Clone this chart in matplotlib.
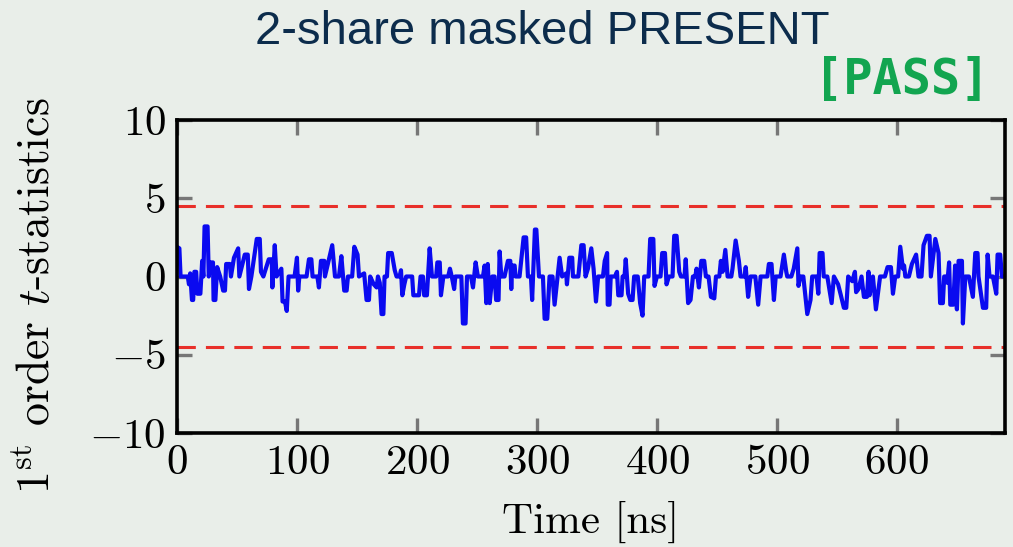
import matplotlib
matplotlib.use("Agg")
import matplotlib.pyplot as plt

plt.rcParams['font.family'] = 'serif'
plt.rcParams['font.serif'] = ['cmr10']
plt.rcParams['mathtext.fontset'] = 'cm'
plt.rcParams['axes.formatter.use_mathtext'] = True

# t-statistic trace (time in ns, value)
times = [0, 2, 3, 9, 10, 11, 12.5, 13.5, 14.5, 16, 17, 19.5, 21, 22, 23, 25.5, 26.5, 28, 30, 30.5,
         32, 33.5, 36, 38.5, 40, 41, 44, 45, 47.5, 51, 52, 56.5, 59, 60, 62, 66.5, 69, 70, 72, 76.5,
         79, 79.5, 81.5, 83, 87, 88, 90, 91.5, 93, 98, 100, 101, 102, 108, 110, 112, 113, 117,
         118.3, 119, 120, 122.8, 123.3, 127, 129.4, 131.7, 135, 137, 139.4, 141.4, 142.5, 146, 147.8, 150.5, 151.7,
         156, 158, 160, 161, 164, 166.4, 167.5, 169, 170.5, 172, 173, 175, 176, 179, 181.5, 183,
         185.5, 186.7, 187.8, 189.5, 191, 196, 197, 201.7, 203, 205, 206, 208.3, 210.6, 212.5,
         216, 217, 219, 220, 222, 226, 227.5, 229, 231, 232,
         237, 238.3, 240.5, 241.7, 245, 246.7, 248.9, 250.8, 255, 256.4, 257.8, 259, 260.6, 262.8,
         264.7, 266, 268, 268.9, 270.3, 273, 275.8, 277.8, 278.6, 279.4, 281.4, 282.2,
         285.5, 288.9, 291, 292.5, 295, 296, 298.3, 299.5, 301.7, 305, 306.4, 308.6, 310.5,
         313, 314.7, 318.9, 321, 324.4, 325, 327, 329.4, 330, 334.5, 337, 338.9, 340.5, 342.5, 345.3,
         347.2, 349.2, 351, 355, 356.5, 358.5, 359, 360.5, 361.5, 365, 366.7, 367.8, 370.5, 371.4,
         373, 374, 376, 377.8, 379.7, 381, 384, 386, 388, 389.4, 393, 394.4, 397, 398, 400,
         403, 404.4, 406.7, 408, 410, 413, 414.4, 416.4, 418.6, 420, 423, 424, 426, 428, 430,
         432, 433, 435, 437, 439.4, 440.8, 443, 445, 447.8, 449.2, 452, 453.3, 454.7, 457, 458.9,
         462, 463, 465.6, 468.3, 469.7, 473, 474, 476, 478, 482, 484.4, 486.4, 492, 493.3, 495.5,
         497.5, 499, 503, 505.8, 507.8, 508.6, 512, 514, 517, 518, 519.5, 522, 525.3, 528, 529.4,
         533, 534.5, 535.6, 538, 539, 542, 543.3, 545.6, 547.5, 551, 553.3, 555.8, 557.8, 559.4,
         562.8, 565, 566, 568, 570.5, 572.5, 575, 576.4, 577.2, 580, 582.5, 586, 590, 592.2,
         595, 596.7, 598.6, 601, 602.8, 605, 606, 607, 610, 612.5, 616, 618, 620.5, 622.2, 625,
         627.2, 628.3, 632, 634.7, 636, 638.3, 639.4, 641, 642, 643.5, 644.5, 647, 648.5, 650,
         651.4, 654.2, 655, 657, 660, 663.3, 665.3, 667.2, 668, 671.7, 674.4, 675.6, 677.2,
         680, 682.8, 683.9, 686.1, 687.5, 692]
tvals = [1.9, 1.8, 0, 0, -0.5, 0.2, -1.5, -1.5, 0.3, 0.3, -1.1, -1.1, 1.0, 0, 3.2, 3.2, 0, 0.9, 0.9, -1.5,
         -1.5, 0.6, 0, -0.9, -0.9, 0.8, 0.8, 0, 1.2, 1.8, 0, 1.4, 1.4, -0.8, 0, 2.4, 2.4, 0.3, 0, 1.1,
         1.1, -0.7, 2.0, 0, 0.5, -1.6, -1.6, -2.2, 0, 0, 1.2, -0.9, 0, 0, 1.1, 1.1, 0, 0,
         -0.7, 0, 1.0, 1.0, 0, 1.2, 2.0, 0, 0, 1.3, -0.9, -0.9, 0, 0, 1.9, 1.4, 0,
         0.2, -1.5, -1.5, 0, -0.5, -0.7, 0, -0.4, -2.4, -2.4, 0, 0, 1.5, 1.5, 0.4, 0,
         0, 0.4, -1.2, -0.5, 0, 0, -1.2, -1.2, 0, 0, -1.2, -1.2, 1.8, 0,
         0, 0.9, 0.9, -1.2, 0, 0, 0.5, 0, -0.8, 0,
         0, -3.0, -3.0, 0, 0, -0.7, 0.9, 0, 0, 0.7, -1.7, 0.8, -1.7, 0,
         0, -1.5, -1.5, 1.6, 0, 0, 1.0, 1.0, -0.8, 0.7, 0.7, 0,
         0, 2.5, 2.5, 0, 0, -1.5, 3.0, 3.0, 0, 0, -2.7, -2.7, 0,
         0, -1.8, 1.2, 0, 0.2, -0.5, 1.2, 1.2, 0, 0, 2.0, 2.0, 0, 0.5, 1.8,
         0.5, -1.6, 0, 0, 1.0, 1.5, -1.8, -1.8, 0, 0, 0.3, -1.2, -1.2, 0,
         0, 1.1, -1.1, -1.5, -1.5, 0, 0, -1.7, -2.5, 0, 0, 2.4, 2.4, -0.6, 0,
         0, 1.5, 1.5, -0.5, 0, 0, 2.6, 2.6, 0.3, 0, 0, 1.1, -1.7, -1.5, 0,
         0, 0.5, -0.7, 1.0, 1.0, 0, 0, -1.3, -1.4, 0, 0, 1.0, 0.3, 1.7, 0,
         0, 0.5, 2.3, 1.0, 0, 0, 0.6, -1.3, 0, 0, -1.8, 0, 0, 0.8, 0.8,
         -1.5, 0, 0, 1.4, 0.3, 0, 0, 0.5, 1.8, -0.6, 0, 0, -2.4, -1.5, 0,
         0, -1.1, 1.5, 1.5, 0, 0, -0.6, -1.7, 0, -0.5, -1.2, -2.0, -2.0, 0,
         -0.3, 0.3, -1.0, -0.8, 0, -1.3, -1.3, 0.3, -1.2, 0, -2.1, 0, 0, 0.6,
         0.6, -1.1, 0, 0, 1.9, 0.5, 0.7, 0, 0, 0.8, 1.4, 0, 0, 2.0, 2.6,
         2.6, 0, 2.4, 1.5, -1.7, -1.7, 0, 0, -0.4, 0.9, -1.8, -1.8, 0.7, -2.1,
         1.0, 1.0, -3.0, 0, 0, -1.3, 1.5, 1.5, 0, -2.0, -2.0, 1.4, 0,
         0, -1.1, 1.4, 1.4, 0, 0]

threshold = 4.5
xticks = [0, 100, 200, 300, 400, 500, 600]
yticks = [-10, -5, 0, 5, 10]

bg = '#e9eee9'
fig = plt.figure(figsize=(10.13, 5.47), dpi=100, facecolor=bg)
ax = fig.add_axes([0.1747, 0.2084, 0.8173, 0.5722], facecolor=bg)

ax.axhline(threshold, color='#e8302a', lw=2.2, ls=(0, (6, 3.3)), zorder=1)
ax.axhline(-threshold, color='#e8302a', lw=2.2, ls=(0, (6, 3.3)), zorder=1)
ax.plot(times, tvals, color='#0a0af0', lw=3.0, zorder=2)

ax.set_xlim(0, 690)
ax.set_ylim(-10, 10)
ax.set_xticks(xticks)
ax.set_yticks(yticks)
ax.tick_params(direction='in', length=11, width=2.4, color='#777777',
               labelsize=31, top=True, right=True, pad=8)
for sp in ax.spines.values():
    sp.set_linewidth(2.6)
    sp.set_color('black')

ax.set_xlabel('Time [ns]', fontsize=31, labelpad=14)
ax.set_ylabel(r'$1^{\rm st}$ order $t$-statistics', fontsize=33)
ax.yaxis.set_label_coords(-0.142, 0.44)

fig.text(0.535, 0.982, '2-share masked PRESENT', ha='center', va='top',
         fontsize=34, color='#0c2c4c', family='Liberation Sans')
fig.text(0.977, 0.81, '[PASS]', ha='right', va='bottom', fontsize=35,
         color='#12a550', family='DejaVu Sans Mono', weight='bold')

fig.savefig('out.png', dpi=100, facecolor=bg)
